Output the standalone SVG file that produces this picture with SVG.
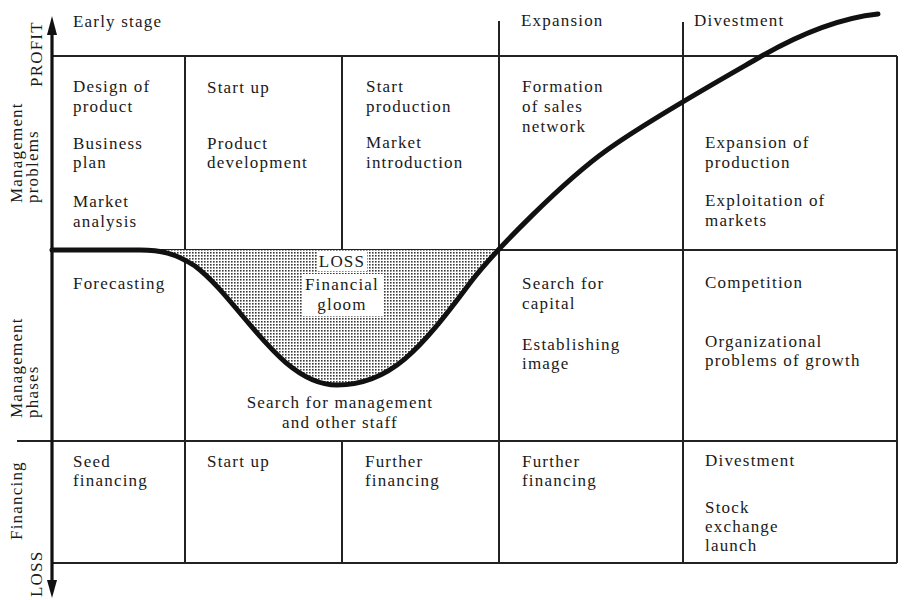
<svg xmlns="http://www.w3.org/2000/svg" width="904" height="600" viewBox="0 0 904 600">
  <style>
    .t { font-family: "Liberation Serif", "Times New Roman", serif; font-size: 17px; letter-spacing: 1.2px; fill: #1a1a1a; }
    .c { text-anchor: middle; }
    .grid { stroke: #222; stroke-width: 2; fill: none; }
    .axis { stroke: #111; stroke-width: 3.2; fill: none; }
    .curve { stroke: #111; stroke-width: 5; fill: none; stroke-linecap: round; stroke-linejoin: round; }
  </style>
  <defs>
    <pattern id="stipple" width="3" height="3" patternUnits="userSpaceOnUse">
      <rect width="3" height="3" fill="#ffffff"/>
      <rect x="0" y="0" width="1.6" height="1.6" fill="#3a3a3a"/>
    </pattern>
  </defs>

  <rect width="904" height="600" fill="#ffffff"/>

  <!-- grid of phases -->
  <g id="grid">
    <line class="grid" x1="52" y1="56" x2="897" y2="56"/>
    <line class="grid" x1="52" y1="250" x2="897" y2="250"/>
    <line class="grid" x1="17" y1="441" x2="897" y2="441"/>
    <line class="grid" x1="52" y1="563" x2="897" y2="563"/>
    <line class="grid" x1="897" y1="56" x2="897" y2="563"/>
    <line class="grid" x1="185" y1="56" x2="185" y2="563"/>
    <line class="grid" x1="342" y1="56" x2="342" y2="250"/>
    <line class="grid" x1="342" y1="441" x2="342" y2="563"/>
    <line class="grid" x1="499" y1="21" x2="499" y2="563"/>
    <line class="grid" x1="683" y1="22" x2="683" y2="563"/>
  </g>

  <!-- loss area under the zero line -->
  <g id="loss-area">
    <path d="M140,250 C160,250 175,253 195,266 C240,300 280,385 337,385 C390,385 420,350 470,283 L497,250 Z" fill="url(#stipple)"/>
    <rect x="317" y="251" width="50" height="20" fill="#ffffff"/>
    <rect x="303" y="274" width="80" height="42" fill="#ffffff"/>
    <text class="t c" x="342" y="267">LOSS</text>
    <text class="t c" x="342" y="290">Financial</text>
    <text class="t c" x="342" y="310">gloom</text>
  </g>

  <!-- profit / loss axis -->
  <g id="axis">
    <line class="axis" x1="52" y1="30" x2="52" y2="585"/>
    <polygon points="52,16 47,35 57,35" fill="#111"/>
    <polygon points="52,598 47,580 57,580" fill="#111"/>
    <text class="t" transform="translate(42,87) rotate(-90)">PROFIT</text>
    <text class="t" transform="translate(42,597) rotate(-90)">LOSS</text>
  </g>

  <!-- row labels -->
  <g id="row-labels">
    <text class="t" transform="translate(22,203) rotate(-90)">Management</text>
    <text class="t" transform="translate(38,203) rotate(-90)">problems</text>
    <text class="t" transform="translate(22,418) rotate(-90)">Management</text>
    <text class="t" transform="translate(38,418) rotate(-90)">phases</text>
    <text class="t" transform="translate(22,540) rotate(-90)">Financing</text>
  </g>

  <!-- stage headings -->
  <g id="headings">
    <text class="t" x="73" y="27">Early stage</text>
    <text class="t" x="521" y="26">Expansion</text>
    <text class="t" x="694" y="26">Divestment</text>
  </g>

  <!-- management problems row -->
  <g id="problems-1">
    <text class="t" x="73" y="92">Design of</text>
    <text class="t" x="73" y="112">product</text>
    <text class="t" x="73" y="149">Business</text>
    <text class="t" x="73" y="168">plan</text>
    <text class="t" x="73" y="207">Market</text>
    <text class="t" x="73" y="227">analysis</text>
  </g>
  <g id="problems-2">
    <text class="t" x="207" y="93">Start up</text>
    <text class="t" x="207" y="149">Product</text>
    <text class="t" x="207" y="168">development</text>
  </g>
  <g id="problems-3">
    <text class="t" x="366" y="92">Start</text>
    <text class="t" x="366" y="112">production</text>
    <text class="t" x="366" y="148">Market</text>
    <text class="t" x="366" y="168">introduction</text>
  </g>
  <g id="problems-4">
    <text class="t" x="522" y="92">Formation</text>
    <text class="t" x="522" y="112">of sales</text>
    <text class="t" x="522" y="132">network</text>
  </g>
  <g id="problems-5">
    <text class="t" x="705" y="148">Expansion of</text>
    <text class="t" x="705" y="168">production</text>
    <text class="t" x="705" y="206">Exploitation of</text>
    <text class="t" x="705" y="226">markets</text>
  </g>

  <!-- management phases row -->
  <g id="phases-1">
    <text class="t" x="73" y="289">Forecasting</text>
  </g>
  <g id="phases-2">
    <text class="t c" x="340" y="408">Search for management</text>
    <text class="t c" x="340" y="428">and other staff</text>
  </g>
  <g id="phases-3">
    <text class="t" x="522" y="289">Search for</text>
    <text class="t" x="522" y="309">capital</text>
    <text class="t" x="522" y="350">Establishing</text>
    <text class="t" x="522" y="369">image</text>
  </g>
  <g id="phases-4">
    <text class="t" x="705" y="288">Competition</text>
    <text class="t" x="705" y="347">Organizational</text>
    <text class="t" x="705" y="366">problems of growth</text>
  </g>

  <!-- financing row -->
  <g id="financing-1">
    <text class="t" x="73" y="467">Seed</text>
    <text class="t" x="73" y="486">financing</text>
  </g>
  <g id="financing-2">
    <text class="t" x="207" y="467">Start up</text>
  </g>
  <g id="financing-3">
    <text class="t" x="365" y="467">Further</text>
    <text class="t" x="365" y="486">financing</text>
  </g>
  <g id="financing-4">
    <text class="t" x="522" y="467">Further</text>
    <text class="t" x="522" y="486">financing</text>
  </g>
  <g id="financing-5">
    <text class="t" x="705" y="466">Divestment</text>
    <text class="t" x="705" y="513">Stock</text>
    <text class="t" x="705" y="532">exchange</text>
    <text class="t" x="705" y="551">launch</text>
  </g>

  <!-- profit curve -->
  <g id="connectors">
    <path class="curve" d="M52,250 L140,250 C160,250 175,253 195,266 C240,300 280,385 337,385 C390,385 420,350 470,283 C495,250 565,180 607,150 C647,121 720,80 760,57 C800,34 840,18 878,14"/>
  </g>
</svg>
